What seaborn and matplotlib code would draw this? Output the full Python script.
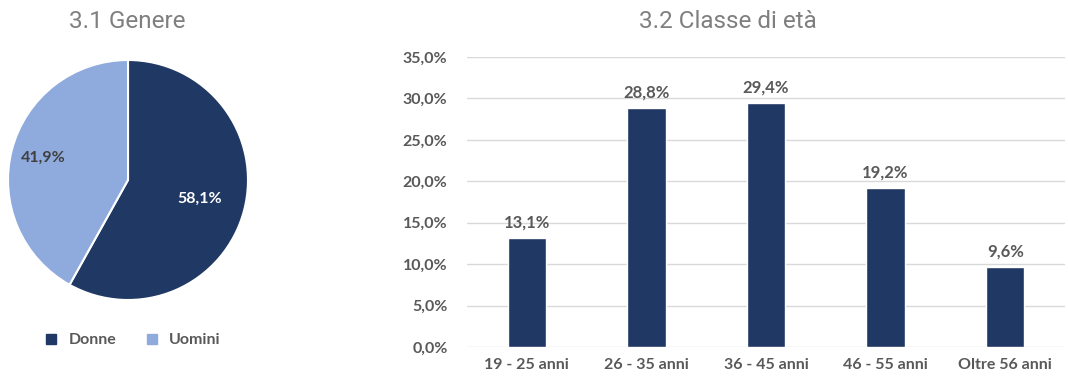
import seaborn as sns
import matplotlib.pyplot as plt
import numpy as np
import pandas as pd

# dati
genere = ["Donne", "Uomini"]
genere_pct = [58.1, 41.9]

classi = ["19 - 25 anni", "26 - 35 anni", "36 - 45 anni", "46 - 55 anni", "Oltre 56 anni"]
classi_pct = [13.1, 28.8, 29.4, 19.2, 9.6]

navy = "#203864"
light = "#8FAADC"
txt = "#595959"

sns.set_theme(style="white")
plt.rcParams['font.family'] = ['Lato', 'DejaVu Sans']

fig = plt.figure(figsize=(10.68, 3.79), dpi=100)

# --- 3.1 Genere (torta)
ax1 = fig.add_axes([8 / 1068, 1 - 300 / 379, 240 / 1068, 240 / 379])
wedges, texts, autotexts = ax1.pie(
    genere_pct, colors=[navy, light], startangle=90, counterclock=False,
    autopct=lambda p: f"{p:.1f}%".replace(".", ","), pctdistance=0.7,
    wedgeprops=dict(edgecolor="white", linewidth=1.5),
    textprops=dict(fontsize=11.5, fontweight="bold"))
ax1.set_xlim(-1, 1)
ax1.set_ylim(-1, 1)
ax1.set_aspect("equal")

# posizioni etichette come nell'originale
dists = [0.62, 0.73]
for w, t, d in zip(wedges, autotexts, dists):
    ang = np.deg2rad((w.theta1 + w.theta2) / 2)
    t.set_position((d * np.cos(ang), d * np.sin(ang)))
autotexts[0].set_color("white")
autotexts[1].set_color("#404040")

handles = [plt.Line2D([], [], marker="s", linestyle="", markersize=7, color=c) for c in [navy, light]]
fig.legend(handles, genere, loc="center", bbox_to_anchor=(128 / 1068, 1 - 340 / 379),
           ncol=2, frameon=False, handletextpad=0.1, columnspacing=1.2,
           prop=dict(size=11.5, weight="bold"), labelcolor=txt)

fig.text(127 / 1068, 1 - 22 / 379, "3.1 Genere", ha="center", va="center",
         fontsize=17.5, color="#7f7f7f", family=["Roboto", "DejaVu Sans"])

# --- 3.2 Classe di età (barre)
ax2 = fig.add_axes([467 / 1068, 1 - 347 / 379, 598 / 1068, 290 / 379])
df = pd.DataFrame({"classe": classi, "pct": classi_pct})
sns.barplot(data=df, x="classe", y="pct", color=navy, width=0.32, saturation=1, ax=ax2)
ax2.set_ylim(0, 35)
ax2.set_yticks(np.arange(0, 36, 5))
ax2.set_yticklabels([f"{v:.1f}%".replace(".", ",") for v in np.arange(0, 36, 5)])
ax2.set_xlabel("")
ax2.set_ylabel("")
ax2.yaxis.grid(True, color="#d9d9d9", linewidth=1)
ax2.set_axisbelow(True)
sns.despine(ax=ax2, left=True, bottom=True)
ax2.tick_params(axis="both", length=0, labelsize=11.5, labelcolor=txt, pad=8)
for lab in ax2.get_xticklabels() + ax2.get_yticklabels():
    lab.set_fontweight("bold")
ax2.tick_params(axis="y", pad=14)

for i, v in enumerate(classi_pct):
    ax2.text(i, v + 0.9, f"{v:.1f}%".replace(".", ","), ha="center", va="bottom",
             fontsize=12, fontweight="bold", color=txt)

fig.text(728 / 1068, 1 - 22 / 379, "3.2 Classe di età", ha="center", va="center",
         fontsize=17.5, color="#7f7f7f", family=["Roboto", "DejaVu Sans"])

fig.savefig("out.png", dpi=100)
